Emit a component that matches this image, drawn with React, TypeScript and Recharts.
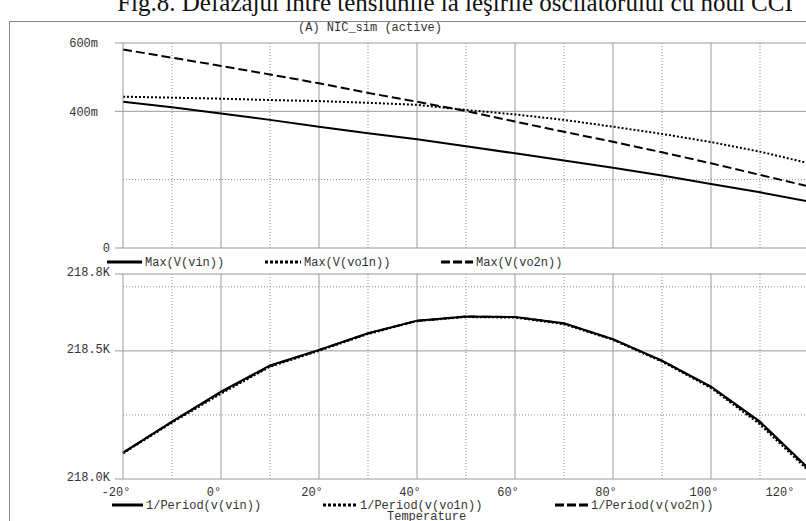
import { Line, LineChart, ReferenceLine, XAxis, YAxis } from 'recharts';

const temps = [-20, -10, 0, 10, 20, 30, 40, 50, 60, 70, 80, 90, 100, 110, 120];

// top plot, mV
const maxVin = [428, 412, 394, 375, 355, 336, 318, 298, 277, 256, 235, 212, 187, 163, 136];
const maxVo1n = [443, 440, 437, 433, 430, 425, 419, 404, 391, 375, 355, 334, 310, 282, 248];
const maxVo2n = [581, 557, 533, 508, 482, 454, 428, 401, 370, 340, 311, 280, 248, 214, 180];

// bottom plot, kHz
const perVin = [218.103, 218.224, 218.341, 218.443, 218.504, 218.569, 218.618, 218.634, 218.632, 218.608, 218.546, 218.462, 218.361, 218.224, 218.04];
const perVo1n = [218.1, 218.22, 218.333, 218.438, 218.5, 218.566, 218.616, 218.632, 218.63, 218.604, 218.543, 218.458, 218.355, 218.213, 218.03];
const perVo2n = [218.102, 218.223, 218.338, 218.441, 218.503, 218.568, 218.617, 218.634, 218.632, 218.607, 218.545, 218.461, 218.359, 218.22, 218.036];

const xTicks = [-20, 0, 20, 40, 60, 80, 100, 120];
const xMajor = [0, 20, 40, 60, 80, 100];
const xMinor = [-10, 10, 30, 50, 70, 90, 110];
const topTicks = [0, 400, 600];
const topMinor = [200];
const botTicks = [218.0, 218.5, 218.8];
const botMinor = [218.25, 218.75];

const topNames = ['Max(V(vin))', 'Max(V(vo1n))', 'Max(V(vo2n))'];
const botNames = ['1/Period(v(vin))', '1/Period(v(vo1n))', '1/Period(v(vo2n))'];

const topData = temps.map((t, i) => ({ t, a: maxVin[i], b: maxVo1n[i], c: maxVo2n[i] }));
const botData = temps.map((t, i) => ({ t, a: perVin[i], b: perVo1n[i], c: perVo2n[i] }));

const mono = '"Liberation Mono", "DejaVu Sans Mono", monospace';
const grid = '#9a9a9a';
const dots = '#888';
const ink = '#333';
const dashes = ['', '2 2', '9 4'];

function TopYTick({ x, y, payload }: any) {
  const v = payload.value;
  const label = v === 0 ? '0' : `${v}m`;
  return (
    <text x={v === 0 ? x - 3 : x - 15} y={y} dy="0.35em" textAnchor="end" fontFamily={mono} fontSize={12} fill={ink}>
      {label}
    </text>
  );
}

function BotYTick({ x, y, payload }: any) {
  return (
    <text x={x - 3} y={y - 2} dy="0.35em" textAnchor="end" fontFamily={mono} fontSize={12} fill={ink}>
      {`${payload.value.toFixed(1)}K`}
    </text>
  );
}

function XTick({ x, y, payload }: any) {
  const last = payload.value === 120;
  return (
    <text x={last ? x - 29 : x - 7} y={y + 9} textAnchor="middle" fontFamily={mono} fontSize={12} fill={ink}>
      {`${payload.value}°`}
    </text>
  );
}

function Grid({ hTicks, hMinor }: { hTicks: number[]; hMinor: number[] }) {
  return (
    <>
      {xMajor.map((v) => (
        <ReferenceLine key={`xm${v}`} x={v} stroke={grid} strokeWidth={1} />
      ))}
      {xMinor.map((v) => (
        <ReferenceLine key={`xn${v}`} x={v} stroke={dots} strokeWidth={1} strokeDasharray="1 2" />
      ))}
      {hTicks.map((v) => (
        <ReferenceLine key={`ym${v}`} y={v} stroke={grid} strokeWidth={1} />
      ))}
      {hMinor.map((v) => (
        <ReferenceLine key={`yn${v}`} y={v} stroke={dots} strokeWidth={1} strokeDasharray="1 2" />
      ))}
    </>
  );
}

function LegendRow({ names, marks, y }: { names: string[]; marks: [number, number][]; y: number }) {
  return (
    <svg width={806} height={16} style={{ position: 'absolute', left: 0, top: y - 8 }}>
      {names.map((n, i) => (
        <g key={n}>
          <line x1={marks[i][0]} x2={marks[i][1]} y1={8} y2={8} stroke="#000" strokeWidth={3} strokeDasharray={dashes[i] ? (i === 1 ? '3 2' : '9 3') : undefined} />
          <text x={marks[i][1] + 3} y={8} dy="0.35em" fontFamily={mono} fontSize={12} fill={ink}>
            {n}
          </text>
        </g>
      ))}
    </svg>
  );
}

function Series() {
  return ['a', 'b', 'c'].map((k, i) => (
    <Line
      key={k}
      dataKey={k}
      type="linear"
      stroke="#000"
      strokeWidth={2}
      strokeDasharray={dashes[i] || undefined}
      dot={false}
      isAnimationActive={false}
    />
  ));
}

export default function App() {
  return (
    <div style={{ position: 'fixed', left: 0, top: 0, width: 806, height: 521, overflow: 'hidden', background: '#fff' }}>
      <div
        style={{
          position: 'absolute',
          left: 0,
          top: -11,
          width: 806,
          textAlign: 'center',
          paddingLeft: 104,
          boxSizing: 'border-box',
          fontFamily: '"Liberation Serif", "DejaVu Serif", serif',
          fontSize: 25,
          lineHeight: '28px',
          color: '#111',
          whiteSpace: 'nowrap',
        }}
      >
        Fig.8. Defazajul între tensiunile la ieşirile oscilatorului cu noul CCI
      </div>
      <div style={{ position: 'absolute', left: 9, top: 21, width: 900, height: 600, borderLeft: '1px solid #888', borderTop: '1px solid #888' }} />
      <div style={{ position: 'absolute', left: 298, top: 21, fontFamily: mono, fontSize: 12, color: ink, lineHeight: '14px' }}>
        (A) NIC_sim (active)
      </div>

      <div style={{ position: 'absolute', left: 0, top: 0 }}>
        <LineChart width={820} height={260} data={topData} margin={{ top: 43, right: 11, bottom: 12, left: 63 }}>
          <XAxis dataKey="t" type="number" domain={[-20, 120]} ticks={xTicks} hide />
          <YAxis
            type="number"
            domain={[0, 600]}
            ticks={topTicks}
            width={60}
            stroke={grid}
            tickSize={8}
            tick={<TopYTick />}
            interval={0}
          />
          <Grid hTicks={topTicks} hMinor={topMinor} />
          {Series()}
        </LineChart>
      </div>
      <LegendRow names={topNames} marks={[[107, 142], [265, 301], [441, 473]]} y={262} />

      <div style={{ position: 'absolute', left: 0, top: 0 }}>
        <LineChart width={820} height={521} data={botData} margin={{ top: 274, right: 11, bottom: 22, left: 63 }}>
          <XAxis
            dataKey="t"
            type="number"
            domain={[-20, 120]}
            ticks={xTicks}
            height={20}
            axisLine={false}
            tickLine={false}
            tick={<XTick />}
            interval={0}
          />
          <YAxis
            type="number"
            domain={[218.0, 218.8]}
            ticks={botTicks}
            width={60}
            stroke={grid}
            tickSize={8}
            tick={<BotYTick />}
            interval={0}
          />
          <Grid hTicks={botTicks} hMinor={botMinor} />
          {Series()}
        </LineChart>
      </div>
      <LegendRow names={botNames} marks={[[112, 143], [323, 357], [555, 588]]} y={505} />
      <div style={{ position: 'absolute', left: 387, top: 510, fontFamily: mono, fontSize: 12, color: ink, lineHeight: '14px' }}>
        Temperature
      </div>
    </div>
  );
}
